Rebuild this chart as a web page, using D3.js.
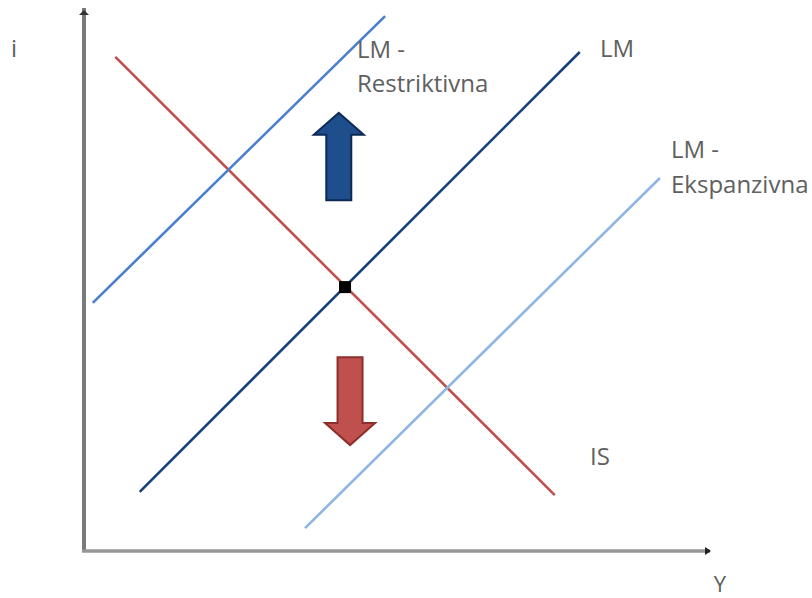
<!DOCTYPE html>
<html>
<head>
<meta charset="utf-8">
<script src="https://cdn.jsdelivr.net/npm/d3@7"></script>
<style>
  body { margin: 0; background: #fff; }
  text { font-family: "Open Sans", sans-serif; fill: #606060; }
</style>
</head>
<body>
<div id="chart"></div>
<script>
// IS-LM diagram — restrictive / expansive monetary policy

// curves: [x0, y0, x1, y1] in model units (0..10 on both axes)
const curveNames = ["IS", "LM", "LM - Restriktivna", "LM - Ekspanzivna"];
const curveEnds = [
  [0.50, 9.10, 7.52, 1.03],
  [0.89, 1.09, 7.92, 9.19],
  [0.14, 4.57, 4.81, 9.85],
  [3.53, 0.42, 9.20, 6.87]
];
const curveColors = ["#c0504d", "#17407a", "#4a7fd0", "#8fb5e4"];
const equilibrium = [4.17, 4.86];
// shift arrows: [x, yStart, yEnd]
const shiftArrows = [
  [4.07, 6.46, 8.07],
  [4.25, 3.57, 1.95]
];
const axisLabels = ["Y", "i"];

const W = 812, H = 598;
const svg = d3.select("#chart").append("svg")
  .attr("width", W)
  .attr("height", H);

const x = d3.scaleLinear().domain([0, 10]).range([84, 710]);
const y = d3.scaleLinear().domain([0, 10]).range([551, 8]);

// axes
svg.append("line")
  .attr("x1", x(0)).attr("y1", y(0))
  .attr("x2", x(0)).attr("y2", y(10))
  .attr("stroke", "#7a7a7a").attr("stroke-width", 4);
svg.append("line")
  .attr("x1", x(0) - 2).attr("y1", y(0))
  .attr("x2", x(10)).attr("y2", y(0))
  .attr("stroke", "#969696").attr("stroke-width", 3.5);
// tiny arrow tips
svg.append("path")
  .attr("d", `M${x(0) - 5},${y(10) + 7} L${x(0)},${y(10) + 2} L${x(0) + 5},${y(10) + 7} Z`)
  .attr("fill", "#333");
svg.append("path")
  .attr("d", `M${x(10) - 5},${y(0) - 4} L${x(10) + 1},${y(0)} L${x(10) - 5},${y(0) + 4} Z`)
  .attr("fill", "#222");

svg.append("text").attr("x", 720).attr("y", 592).attr("text-anchor", "middle")
  .style("font-size", "22px").text(axisLabels[0]);
svg.append("text").attr("x", 14).attr("y", 57).attr("text-anchor", "middle")
  .style("font-size", "24px").text(axisLabels[1]);

// curves
svg.selectAll(".curve")
  .data(curveEnds)
  .enter()
  .append("line")
  .attr("class", "curve")
  .attr("x1", d => x(d[0])).attr("y1", d => y(d[1]))
  .attr("x2", d => x(d[2])).attr("y2", d => y(d[3]))
  .attr("stroke", (d, i) => curveColors[i])
  .attr("stroke-width", 2.6);

// equilibrium point
svg.append("rect")
  .attr("x", x(equilibrium[0]) - 6)
  .attr("y", y(equilibrium[1]) - 6)
  .attr("width", 12).attr("height", 12)
  .attr("fill", "#000");

// block arrows
const arrowFill = ["#1f4e8c", "#c0504d"];
const arrowEdge = ["#0d2a55", "#8c2f2d"];
shiftArrows.forEach((a, i) => {
  const cx = x(a[0]);
  const y0 = y(a[1]), y1 = y(a[2]);
  const dir = y1 < y0 ? -1 : 1;
  const headLen = 22, shaftHalf = 12.5, headHalf = 25;
  const yb = y1 - dir * headLen;
  const pts = [
    [cx - shaftHalf, y0], [cx - shaftHalf, yb], [cx - headHalf, yb],
    [cx, y1], [cx + headHalf, yb], [cx + shaftHalf, yb], [cx + shaftHalf, y0]
  ];
  svg.append("path")
    .attr("d", "M" + pts.map(p => p.join(",")).join("L") + "Z")
    .attr("fill", arrowFill[i])
    .attr("stroke", arrowEdge[i])
    .attr("stroke-width", 2);
});

// curve labels
const lbl = svg.append("g").style("font-size", "24px");
lbl.append("text").attr("x", 590).attr("y", 465).text(curveNames[0]);
lbl.append("text").attr("x", 600).attr("y", 57).text(curveNames[1]);
lbl.append("text").attr("x", 357).attr("y", 58).text("LM -");
lbl.append("text").attr("x", 357).attr("y", 92).text("Restriktivna");
lbl.append("text").attr("x", 671).attr("y", 158).text("LM -");
lbl.append("text").attr("x", 671).attr("y", 193).text("Ekspanzivna");
</script>
</body>
</html>
